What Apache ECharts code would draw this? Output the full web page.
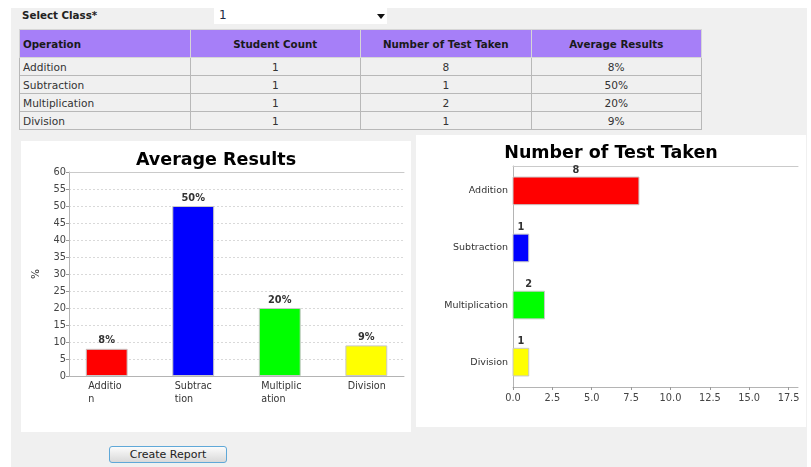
<!DOCTYPE html>
<html>
<head>
<meta charset="utf-8">
<script src="https://cdn.jsdelivr.net/npm/echarts@6/dist/echarts.min.js"></script>
<style>
body{margin:0;background:#fff;font-family:"DejaVu Sans",sans-serif;}
#bg{position:absolute;left:11px;top:8px;width:796px;height:459px;background:#f0f0f0;}
#selLabel{position:absolute;left:22px;top:9px;font-size:10.3px;font-weight:bold;color:#222;}
#sel{position:absolute;left:214px;top:7px;width:173px;height:17px;background:#fff;}
#sel span{position:absolute;left:5px;top:1px;font-size:12px;color:#1c2a44;}
#sel i{position:absolute;left:163px;top:7px;width:0;height:0;border-left:4px solid transparent;border-right:4px solid transparent;border-top:5px solid #111;}
#tbl{position:absolute;left:19px;top:29px;width:683px;border-collapse:collapse;table-layout:fixed;font-family:"DejaVu Sans",sans-serif;border:1px solid #9c9c9c;}
#tbl th{background:#a67ff8;height:27px;font-size:10.3px;font-weight:bold;color:#1a1a1a;border:1px solid #d6d6d6;text-align:center;padding:0;}
#tbl td{height:17px;font-size:10.6px;color:#333;border:1px solid #b8b8b8;text-align:center;padding:0;}
#tbl th:first-child,#tbl td:first-child{text-align:left;padding-left:3px;}
#avg{position:absolute;left:21px;top:141px;width:390px;height:291px;}
#cnt{position:absolute;left:416px;top:135px;width:390px;height:292px;}
#btn{position:absolute;left:109px;top:446px;width:116px;height:15px;border:1px solid #5fa8d8;border-radius:3px;background:linear-gradient(#fbfbfb,#d9d9d9);font-size:11px;color:#222;text-align:center;line-height:15px;}
</style>
</head>
<body>
<div id="bg"></div>
<div id="selLabel">Select Class*</div>
<div id="sel"><span>1</span><i></i></div>
<table id="tbl"></table>
<div id="avg"></div>
<div id="cnt"></div>
<div id="btn">Create Report</div>
<script>
// table / chart data
const headers = ['Operation', 'Student Count', 'Number of Test Taken', 'Average Results'];
const operations = ['Addition', 'Subtraction', 'Multiplication', 'Division'];
const studentCounts = [1, 1, 1, 1];
const testsTaken = [8, 1, 2, 1];
const averageResults = [8, 50, 20, 9];
const barColors = ['#ff0000', '#0000ff', '#00ff00', '#ffff00'];
const wrappedLabels = ['Additio\nn', 'Subtrac\ntion', 'Multiplic\nation', 'Division'];
const countTicks = [0, 2.5, 5, 7.5, 10, 12.5, 15, 17.5];

// table
let html = '<tr>' + headers.map(h => '<th>' + h + '</th>').join('') + '</tr>';
operations.forEach((op, i) => {
  html += '<tr><td>' + op + '</td><td>' + studentCounts[i] + '</td><td>' + testsTaken[i] +
    '</td><td>' + averageResults[i] + '%</td></tr>';
});
document.getElementById('tbl').innerHTML = html;

// jfreechart-like category spacing: 5% edge margins, 40% between categories
const n = operations.length;
const edgeMargin = 0.05, catMargin = 0.4;
const catW = (1 - 2 * edgeMargin - catMargin) / n;
const step = catW + catMargin / (n - 1);
const catMin = -(edgeMargin + catW / 2) / step;
const catMax = (n - 1) - catMin;
const catIdx = operations.map((_, i) => i);
const barShare = catW / step;

const font = 'DejaVu Sans';
const axisGrey = '#b4b4b4';
const tickFont = 9.8;

const avgChart = echarts.init(document.getElementById('avg'));
avgChart.setOption({
  animation: false,
  backgroundColor: '#fff',
  textStyle: {fontFamily: font},
  title: {text: 'Average Results', left: 'center', top: 5,
    textStyle: {fontFamily: font, fontSize: 17.5, fontWeight: 'bold', color: '#000'}},
  grid: {left: 48, top: 31, right: 7, bottom: 56},
  xAxis: [{
    type: 'value', min: catMin, max: catMax,
    axisLine: {onZero: false, lineStyle: {color: axisGrey}},
    axisTick: {show: false},
    splitLine: {show: false},
    axisLabel: {
      customValues: catIdx, margin: 4, showMinLabel: true, showMaxLabel: true,
      formatter: v => wrappedLabels[v].split('\n').map(s => '{l|' + s + '}').join('\n'),
      rich: {l: {width: 37, align: 'left', fontSize: 9.6, lineHeight: 13, color: '#333', fontFamily: font}}
    }
  }, {
    type: 'value', position: 'top', min: catMin, max: catMax,
    axisLine: {show: true, onZero: false, lineStyle: {color: '#cacaca'}},
    axisTick: {show: false}, axisLabel: {show: false}, splitLine: {show: false}
  }],
  yAxis: {
    type: 'value', min: 0, max: 60, interval: 5,
    name: '%', nameLocation: 'middle', nameGap: 27,
    nameTextStyle: {fontFamily: font, fontSize: 10.5, color: '#333'},
    axisLine: {show: true, onZero: false, lineStyle: {color: axisGrey}},
    axisTick: {show: true, length: 3, lineStyle: {color: '#999'}},
    axisLabel: {margin: 3, fontSize: tickFont, color: '#444', fontFamily: font},
    splitLine: {lineStyle: {type: [2, 2], color: '#d9d9d9'}}
  },
  series: [{
    type: 'bar',
    barWidth: (barShare * 100) + '%',
    data: averageResults.map((v, i) => ({value: [i, v], itemStyle: {color: barColors[i]}})),
    itemStyle: {borderColor: '#c8c8c8', borderWidth: 1},
    label: {show: true, position: 'top', distance: 3, formatter: p => p.value[1] + '%',
      fontWeight: 'bold', fontSize: 9.8, color: '#333', fontFamily: font}
  }]
});

const cntChart = echarts.init(document.getElementById('cnt'));
cntChart.setOption({
  animation: false,
  backgroundColor: '#fff',
  textStyle: {fontFamily: font},
  title: {text: 'Number of Test Taken', left: 'center', top: 4,
    textStyle: {fontFamily: font, fontSize: 17.5, fontWeight: 'bold', color: '#000'}},
  grid: {left: 97, top: 31, right: 8, bottom: 40},
  xAxis: [{
    type: 'value', min: 0, max: 18.1,
    axisLine: {onZero: false, lineStyle: {color: axisGrey}},
    axisTick: {show: true, length: 3, customValues: countTicks, lineStyle: {color: '#999'}},
    axisLabel: {customValues: countTicks, margin: 6, fontSize: tickFont, color: '#444', fontFamily: font,
      formatter: v => v.toFixed(1)},
    splitLine: {show: false}
  }, {
    type: 'value', position: 'top', min: 0, max: 18.1,
    axisLine: {show: true, onZero: false, lineStyle: {color: '#cacaca'}},
    axisTick: {show: false}, axisLabel: {show: false}, splitLine: {show: false}
  }],
  yAxis: {
    type: 'value', inverse: true, min: catMin, max: catMax,
    axisLine: {show: true, onZero: false, lineStyle: {color: axisGrey}},
    axisTick: {show: false},
    splitLine: {show: false},
    axisLabel: {customValues: catIdx, margin: 5, fontSize: 9.5, color: '#333', fontFamily: font,
      formatter: v => operations[v]}
  },
  series: [{
    type: 'custom',
    encode: {x: 0, y: 1},
    data: testsTaken.map((v, i) => [v, i]),
    renderItem: (params, api) => {
      const val = api.value(0), idx = api.value(1);
      const a = api.coord([0, idx]);
      const b = api.coord([val, idx]);
      const h = Math.abs(api.size([0, 1])[1]) * barShare;
      return {type: 'group', children: [
        {type: 'rect', shape: {x: a[0], y: a[1] - h / 2, width: b[0] - a[0], height: h},
          style: {fill: barColors[idx], stroke: '#c8c8c8', lineWidth: 1}},
        {type: 'text', style: {text: String(val), x: (a[0] + b[0]) / 2, y: a[1] - h / 2 - 2,
          align: 'center', verticalAlign: 'bottom', fontWeight: 'bold', fontSize: 9.8,
          fontFamily: font, fill: '#333'}}
      ]};
    }
  }]
});
</script>
</body>
</html>
